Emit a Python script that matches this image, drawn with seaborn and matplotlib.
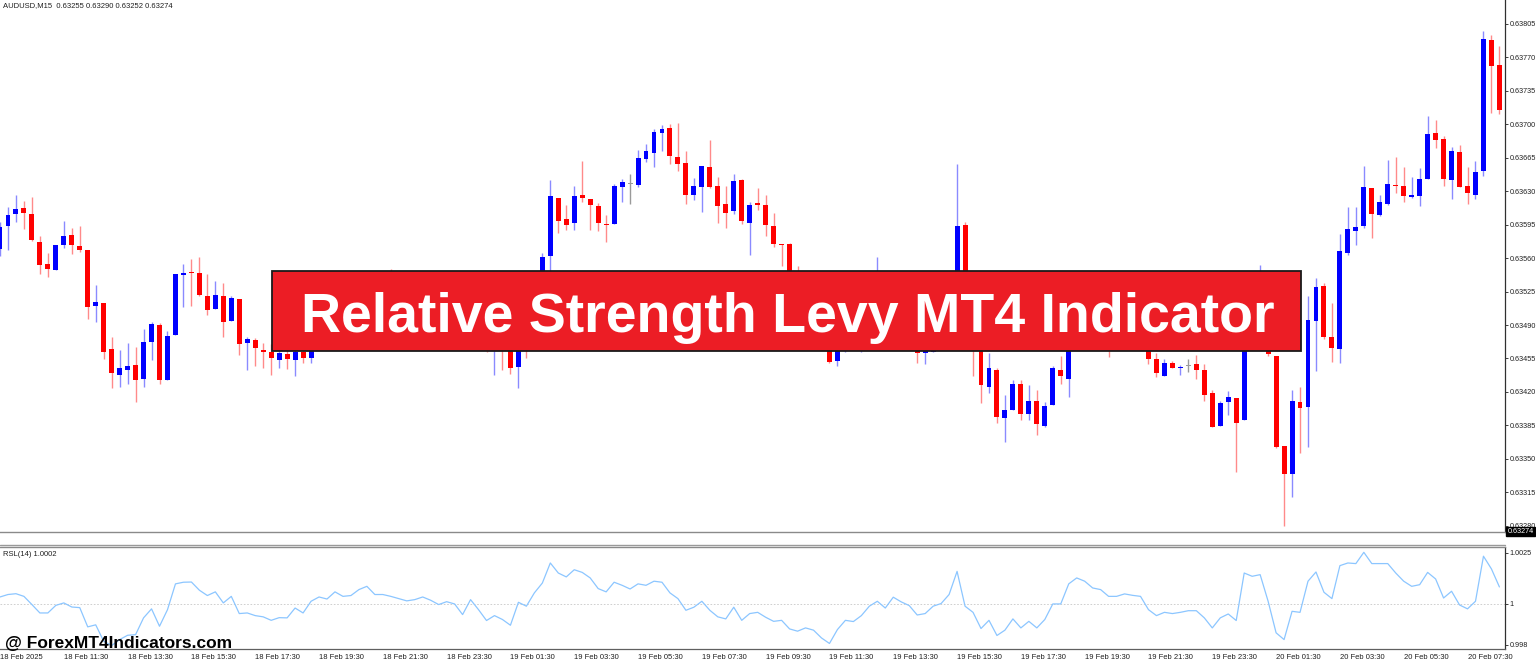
import numpy as np
import pandas as pd
import matplotlib
matplotlib.use("Agg")
import matplotlib.pyplot as plt
import seaborn as sns
from matplotlib.patches import Rectangle
from matplotlib.lines import Line2D
from matplotlib.transforms import blended_transform_factory

# ---------------- data (AUDUSD M15) ----------------
opens = [0.63570, 0.63594, 0.63606, 0.63612, 0.63606, 0.63577, 0.63554, 0.63548, 0.63574, 0.63584,
         0.63573, 0.63568, 0.63510, 0.63513, 0.63465, 0.63438, 0.63443, 0.63448, 0.63434, 0.63472,
         0.63490, 0.63433, 0.63480, 0.63542, 0.63545, 0.63544, 0.63520, 0.63507, 0.63520, 0.63494,
         0.63517, 0.63471, 0.63474, 0.63464, 0.63462, 0.63453, 0.63460, 0.63453, 0.63462, 0.63455,
         0.63484, 0.63500, 0.63496, 0.63518, 0.63508, 0.63512, 0.63528, 0.63538, 0.63520, 0.63522,
         0.63520, 0.63516, 0.63510, 0.63515, 0.63524, 0.63516, 0.63505, 0.63512, 0.63506, 0.63480,
         0.63518, 0.63496, 0.63468, 0.63482, 0.63466, 0.63446, 0.63505, 0.63498, 0.63525, 0.63562,
         0.63623, 0.63601, 0.63597, 0.63626, 0.63622, 0.63615, 0.63596, 0.63596, 0.63634, 0.63638,
         0.63636, 0.63664, 0.63670, 0.63691, 0.63696, 0.63666, 0.63659, 0.63626, 0.63634, 0.63655,
         0.63635, 0.63617, 0.63609, 0.63642, 0.63597, 0.63618, 0.63616, 0.63594, 0.63575, 0.63575,
         0.63530, 0.63505, 0.63510, 0.63496, 0.63475, 0.63452, 0.63492, 0.63500, 0.63494, 0.63504,
         0.63520, 0.63530, 0.63512, 0.63530, 0.63520, 0.63510, 0.63461, 0.63462, 0.63500, 0.63510,
         0.63530, 0.63595, 0.63510, 0.63484, 0.63425, 0.63443, 0.63393, 0.63401, 0.63428, 0.63397,
         0.63411, 0.63384, 0.63406, 0.63443, 0.63434, 0.63486, 0.63500, 0.63494, 0.63485, 0.63488,
         0.63478, 0.63482, 0.63490, 0.63486, 0.63478, 0.63454, 0.63437, 0.63450, 0.63445, 0.63447,
         0.63449, 0.63443, 0.63419, 0.63384, 0.63409, 0.63414, 0.63391, 0.63512, 0.63520, 0.63530,
         0.63458, 0.63363, 0.63334, 0.63410, 0.63404, 0.63494, 0.63531, 0.63477, 0.63465, 0.63565,
         0.63588, 0.63594, 0.63633, 0.63605, 0.63617, 0.63637, 0.63635, 0.63624, 0.63625, 0.63643,
         0.63691, 0.63685, 0.63642, 0.63671, 0.63635, 0.63626, 0.63651, 0.63788, 0.63762]

highs = [0.63598, 0.63613, 0.63626, 0.63620, 0.63624, 0.63583, 0.63565, 0.63574, 0.63599, 0.63591,
         0.63594, 0.63568, 0.63532, 0.63513, 0.63477, 0.63464, 0.63471, 0.63467, 0.63486, 0.63493,
         0.63492, 0.63484, 0.63543, 0.63554, 0.63559, 0.63561, 0.63543, 0.63536, 0.63534, 0.63520,
         0.63517, 0.63478, 0.63476, 0.63471, 0.63470, 0.63468, 0.63466, 0.63470, 0.63468, 0.63490,
         0.63508, 0.63510, 0.63525, 0.63522, 0.63520, 0.63535, 0.63544, 0.63542, 0.63530, 0.63549,
         0.63528, 0.63522, 0.63524, 0.63532, 0.63530, 0.63520, 0.63518, 0.63516, 0.63510, 0.63524,
         0.63522, 0.63500, 0.63490, 0.63488, 0.63472, 0.63512, 0.63515, 0.63535, 0.63565, 0.63642,
         0.63623, 0.63616, 0.63635, 0.63662, 0.63622, 0.63618, 0.63605, 0.63638, 0.63643, 0.63648,
         0.63673, 0.63679, 0.63695, 0.63699, 0.63700, 0.63701, 0.63672, 0.63644, 0.63656, 0.63684,
         0.63645, 0.63635, 0.63648, 0.63643, 0.63619, 0.63633, 0.63626, 0.63607, 0.63575, 0.63576,
         0.63552, 0.63520, 0.63515, 0.63500, 0.63482, 0.63498, 0.63510, 0.63506, 0.63512, 0.63526,
         0.63561, 0.63535, 0.63536, 0.63534, 0.63525, 0.63514, 0.63478, 0.63506, 0.63518, 0.63538,
         0.63658, 0.63598, 0.63515, 0.63490, 0.63461, 0.63445, 0.63417, 0.63433, 0.63433, 0.63427,
         0.63422, 0.63410, 0.63447, 0.63458, 0.63490, 0.63512, 0.63510, 0.63500, 0.63496, 0.63495,
         0.63490, 0.63498, 0.63496, 0.63492, 0.63484, 0.63461, 0.63454, 0.63452, 0.63448, 0.63454,
         0.63459, 0.63449, 0.63422, 0.63411, 0.63421, 0.63414, 0.63520, 0.63530, 0.63553, 0.63535,
         0.63458, 0.63363, 0.63422, 0.63425, 0.63520, 0.63539, 0.63534, 0.63513, 0.63585, 0.63613,
         0.63613, 0.63656, 0.63633, 0.63626, 0.63663, 0.63666, 0.63655, 0.63645, 0.63654, 0.63709,
         0.63704, 0.63688, 0.63676, 0.63678, 0.63655, 0.63662, 0.63798, 0.63793, 0.63782]

lows = [0.63562, 0.63569, 0.63598, 0.63590, 0.63578, 0.63543, 0.63540, 0.63548, 0.63571, 0.63564,
        0.63566, 0.63496, 0.63493, 0.63454, 0.63424, 0.63425, 0.63428, 0.63410, 0.63425, 0.63453,
        0.63428, 0.63433, 0.63480, 0.63509, 0.63510, 0.63520, 0.63501, 0.63507, 0.63478, 0.63494,
        0.63459, 0.63443, 0.63447, 0.63445, 0.63438, 0.63445, 0.63444, 0.63437, 0.63450, 0.63450,
        0.63478, 0.63488, 0.63490, 0.63500, 0.63502, 0.63506, 0.63520, 0.63514, 0.63512, 0.63512,
        0.63508, 0.63502, 0.63505, 0.63510, 0.63508, 0.63498, 0.63500, 0.63498, 0.63474, 0.63476,
        0.63490, 0.63462, 0.63438, 0.63443, 0.63439, 0.63424, 0.63455, 0.63490, 0.63515, 0.63545,
        0.63586, 0.63589, 0.63589, 0.63619, 0.63589, 0.63588, 0.63577, 0.63596, 0.63619, 0.63617,
        0.63634, 0.63661, 0.63655, 0.63672, 0.63658, 0.63651, 0.63617, 0.63621, 0.63608, 0.63633,
        0.63597, 0.63592, 0.63606, 0.63596, 0.63563, 0.63610, 0.63583, 0.63572, 0.63552, 0.63522,
        0.63498, 0.63495, 0.63488, 0.63468, 0.63450, 0.63447, 0.63462, 0.63486, 0.63462, 0.63498,
        0.63512, 0.63505, 0.63506, 0.63512, 0.63502, 0.63450, 0.63449, 0.63462, 0.63494, 0.63504,
        0.63524, 0.63505, 0.63437, 0.63408, 0.63419, 0.63388, 0.63368, 0.63401, 0.63391, 0.63391,
        0.63375, 0.63383, 0.63406, 0.63428, 0.63415, 0.63478, 0.63485, 0.63475, 0.63478, 0.63457,
        0.63470, 0.63478, 0.63480, 0.63474, 0.63449, 0.63436, 0.63437, 0.63445, 0.63438, 0.63441,
        0.63434, 0.63411, 0.63383, 0.63384, 0.63396, 0.63336, 0.63391, 0.63500, 0.63512, 0.63458,
        0.63361, 0.63280, 0.63310, 0.63356, 0.63362, 0.63442, 0.63475, 0.63451, 0.63450, 0.63563,
        0.63574, 0.63592, 0.63581, 0.63604, 0.63616, 0.63628, 0.63619, 0.63623, 0.63615, 0.63643,
        0.63675, 0.63635, 0.63622, 0.63634, 0.63617, 0.63622, 0.63646, 0.63712, 0.63711]

closes = [0.63593, 0.63605, 0.63611, 0.63607, 0.63579, 0.63553, 0.63549, 0.63574, 0.63583, 0.63574,
          0.63568, 0.63509, 0.63514, 0.63462, 0.63440, 0.63445, 0.63447, 0.63432, 0.63472, 0.63491,
          0.63432, 0.63479, 0.63543, 0.63544, 0.63544, 0.63521, 0.63506, 0.63521, 0.63493, 0.63518,
          0.63470, 0.63475, 0.63466, 0.63462, 0.63455, 0.63461, 0.63454, 0.63462, 0.63455, 0.63484,
          0.63500, 0.63496, 0.63518, 0.63508, 0.63512, 0.63528, 0.63538, 0.63520, 0.63522, 0.63520,
          0.63516, 0.63510, 0.63515, 0.63524, 0.63516, 0.63505, 0.63512, 0.63506, 0.63480, 0.63518,
          0.63496, 0.63468, 0.63482, 0.63466, 0.63445, 0.63505, 0.63498, 0.63525, 0.63561, 0.63625,
          0.63599, 0.63595, 0.63625, 0.63623, 0.63616, 0.63597, 0.63595, 0.63635, 0.63640, 0.63638,
          0.63665, 0.63672, 0.63692, 0.63695, 0.63667, 0.63658, 0.63626, 0.63635, 0.63656, 0.63634,
          0.63615, 0.63607, 0.63641, 0.63599, 0.63616, 0.63616, 0.63595, 0.63575, 0.63574, 0.63530,
          0.63505, 0.63510, 0.63496, 0.63475, 0.63451, 0.63492, 0.63500, 0.63494, 0.63504, 0.63520,
          0.63530, 0.63512, 0.63530, 0.63520, 0.63510, 0.63461, 0.63468, 0.63500, 0.63510, 0.63530,
          0.63594, 0.63510, 0.63484, 0.63427, 0.63445, 0.63394, 0.63401, 0.63428, 0.63397, 0.63411,
          0.63386, 0.63405, 0.63445, 0.63437, 0.63486, 0.63500, 0.63494, 0.63485, 0.63488, 0.63478,
          0.63482, 0.63490, 0.63486, 0.63478, 0.63454, 0.63440, 0.63450, 0.63445, 0.63446, 0.63447,
          0.63443, 0.63417, 0.63383, 0.63408, 0.63415, 0.63388, 0.63512, 0.63520, 0.63530, 0.63460,
          0.63362, 0.63334, 0.63411, 0.63403, 0.63495, 0.63530, 0.63478, 0.63466, 0.63567, 0.63590,
          0.63593, 0.63634, 0.63606, 0.63619, 0.63638, 0.63635, 0.63625, 0.63626, 0.63643, 0.63690,
          0.63684, 0.63643, 0.63672, 0.63634, 0.63628, 0.63650, 0.63789, 0.63761, 0.63715]

rsl = [1.00034, 1.00046, 1.00050, 1.00037, 0.99997, 0.99956, 0.99956, 0.99993, 1.00005, 0.99985,
       0.99982, 0.99888, 0.99898, 0.99818, 0.99797, 0.99826, 0.99847, 0.99850, 0.99932, 0.99976,
       0.99891, 0.99972, 1.00098, 1.00106, 1.00107, 1.00067, 1.00041, 1.00059, 1.00005, 1.00037,
       0.99953, 0.99956, 0.99943, 0.99937, 0.99920, 0.99933, 0.99932, 0.99980, 0.99956, 1.00013,
       1.00034, 1.00024, 1.00059, 1.00037, 1.00041, 1.00070, 1.00086, 1.00046, 1.00046, 1.00037,
       1.00026, 1.00015, 1.00021, 1.00034, 1.00018, 0.99997, 1.00011, 1.00000, 0.99948, 1.00021,
       0.99972, 0.99919, 0.99943, 0.99924, 0.99896, 1.00008, 0.99989, 1.00054, 1.00102, 1.00200,
       1.00151, 1.00132, 1.00167, 1.00154, 1.00127, 1.00075, 1.00059, 1.00106, 1.00091, 1.00073,
       1.00098, 1.00091, 1.00111, 1.00106, 1.00054, 1.00026, 0.99969, 0.99984, 1.00013, 0.99969,
       0.99937, 0.99927, 0.99984, 0.99920, 0.99953, 0.99959, 0.99935, 0.99915, 0.99920, 0.99878,
       0.99867, 0.99883, 0.99872, 0.99834, 0.99807, 0.99875, 0.99920, 0.99914, 0.99943, 0.99989,
       1.00013, 0.99980, 1.00033, 1.00010, 0.99992, 0.99946, 0.99953, 0.99989, 1.00002, 1.00046,
       1.00159, 0.99989, 0.99959, 0.99880, 0.99920, 0.99846, 0.99872, 0.99927, 0.99883, 0.99915,
       0.99883, 0.99924, 1.00000, 1.00000, 1.00098, 1.00127, 1.00111, 1.00078, 1.00070, 1.00037,
       1.00037, 1.00049, 1.00042, 1.00037, 0.99972, 0.99943, 0.99959, 0.99953, 0.99959, 0.99967,
       0.99967, 0.99932, 0.99883, 0.99932, 0.99951, 0.99919, 1.00151, 1.00135, 1.00143, 1.00013,
       0.99859, 0.99826, 0.99964, 0.99959, 1.00111, 1.00156, 1.00057, 1.00026, 1.00187, 1.00200,
       1.00197, 1.00252, 1.00197, 1.00197, 1.00197, 1.00151, 1.00111, 1.00086, 1.00094, 1.00154,
       1.00122, 1.00029, 1.00062, 0.99995, 0.99976, 1.00013, 1.00233, 1.00171, 1.00083]

time_labels = ["18 Feb 2025", "18 Feb 11:30", "18 Feb 13:30", "18 Feb 15:30", "18 Feb 17:30",
               "18 Feb 19:30", "18 Feb 21:30", "18 Feb 23:30", "19 Feb 01:30", "19 Feb 03:30",
               "19 Feb 05:30", "19 Feb 07:30", "19 Feb 09:30", "19 Feb 11:30", "19 Feb 13:30",
               "19 Feb 15:30", "19 Feb 17:30", "19 Feb 19:30", "19 Feb 21:30", "19 Feb 23:30",
               "20 Feb 01:30", "20 Feb 03:30", "20 Feb 05:30", "20 Feb 07:30"]
time_label_bars = [0, 8, 16, 24, 32, 40, 48, 56, 64, 72, 80, 88, 96, 104, 112, 120,
                   128, 136, 144, 152, 160, 168, 176, 184]

price_ticks = [0.63280, 0.63315, 0.63350, 0.63385, 0.63420, 0.63455, 0.63490, 0.63525,
               0.63560, 0.63595, 0.63630, 0.63665, 0.63700, 0.63735, 0.63770, 0.63805]
rsl_ticks = [0.998, 1.0, 1.0025]
rsl_tick_labels = ["0.998", "1", "1.0025"]

header_text = "AUDUSD,M15  0.63255 0.63290 0.63252 0.63274"
rsl_header = "RSL(14) 1.0002"
last_price = 0.63274
banner_text = "Relative Strength Levy MT4 Indicator"
watermark_text = "@ ForexMT4Indicators.com"

# ---------------- figure ----------------
sns.set_style("white")
plt.rcParams["font.family"] = ["Liberation Sans", "DejaVu Sans"]

W, H = 1536, 660
fig = plt.figure(figsize=(W / 100, H / 100), dpi=100)
fig.patch.set_facecolor("white")

df = pd.DataFrame({"bar": np.arange(len(closes)), "open": opens, "high": highs,
                   "low": lows, "close": closes, "rsl": rsl})

BULL, BEAR, DOJI = "#0000ff", "#ff0000", "#9a9a9a"
BULL_W, BEAR_W = "#8a8aff", "#ff8a8a"

def body_color(o, c):
    return BULL if c > o else (BEAR if c < o else DOJI)

def wick_color(o, c):
    return BULL_W if c > o else (BEAR_W if c < o else DOJI)

df["body_col"] = [body_color(o, c) for o, c in zip(df.open, df.close)]
df["wick_col"] = [wick_color(o, c) for o, c in zip(df.open, df.close)]
df["bottom"] = df[["open", "close"]].min(axis=1)
df["height"] = np.maximum((df.close - df.open).abs(), 0.000008)

x_right = 1505
ax = fig.add_axes([0, 1 - 532 / H, x_right / W, 532 / H])
ax2 = fig.add_axes([0, 1 - 649 / H, x_right / W, (649 - 547) / H])

xlim = (0.0, 188.7)
LABEL_FS = 5.2

# --- main candle panel
ax.vlines(df.bar, df.low, df.high, colors=df.wick_col, linewidth=1.0, zorder=2)
ax.bar(df.bar, df.height, bottom=df.bottom, width=0.62, color=df.body_col,
       linewidth=0, zorder=3)
ax.set_xlim(*xlim)
ax.set_ylim(0.632735, 0.63830)
ax.set_xticks([])
ax.yaxis.tick_right()
ax.set_yticks(price_ticks)
ax.set_yticklabels([f"{p:.5f}" for p in price_ticks])
ax.tick_params(axis="y", length=2.5, width=0.6, pad=1.0, labelsize=LABEL_FS, colors="#202020")
for s in ["top", "left"]:
    ax.spines[s].set_visible(False)
ax.spines["right"].set_color("#303030")
ax.spines["right"].set_linewidth(0.9)
ax.spines["bottom"].set_color("#8a8a8a")
ax.spines["bottom"].set_linewidth(1.0)
ax.set_facecolor("white")

tr = blended_transform_factory(ax.transAxes, ax.transData)
ax.text(1.0015, last_price, f"{last_price:.5f}", transform=tr, ha="left", va="center",
        color="white", fontsize=LABEL_FS, clip_on=False,
        bbox=dict(boxstyle="square,pad=0.2", fc="black", ec="black"))

# --- RSL panel
sns.lineplot(data=df, x="bar", y="rsl", ax=ax2, color="#8cc6ff", linewidth=0.9)
ax2.axhline(1.0, color="#c8c8c8", linestyle=(0, (2, 2)), linewidth=0.6, zorder=0)
ax2.set_xlim(*xlim)
ax2.set_ylim(0.99780, 1.00278)
ax2.set_xlabel("")
ax2.set_ylabel("")
ax2.yaxis.tick_right()
ax2.set_yticks(rsl_ticks)
ax2.set_yticklabels(rsl_tick_labels)
ax2.set_xticks(time_label_bars)
ax2.set_xticklabels(time_labels, ha="left")
ax2.tick_params(axis="y", length=2.5, width=0.6, pad=1.0, labelsize=LABEL_FS, colors="#202020")
ax2.tick_params(axis="x", length=3, width=0.6, pad=0.5, labelsize=LABEL_FS + 0.3, colors="#202020")
ax2.spines["left"].set_visible(False)
ax2.spines["top"].set_color("#8a8a8a")
ax2.spines["top"].set_linewidth(1.0)
ax2.spines["right"].set_color("#303030")
ax2.spines["right"].set_linewidth(0.9)
ax2.spines["bottom"].set_color("#606060")
ax2.spines["bottom"].set_linewidth(0.9)
fig.add_artist(Line2D([0, x_right / W], [1 - 545 / H] * 2, transform=fig.transFigure,
                      color="#9a9a9a", linewidth=1.0))

# --- texts
fig.text(3 / W, 1 - 6 / H, header_text, fontsize=5.5, va="center", ha="left", color="#202020")
fig.text(3 / W, 1 - 554 / H, rsl_header, fontsize=5.5, va="center", ha="left", color="#202020")

# banner overlay
fig.add_artist(Rectangle((272 / W, 1 - 351 / H), (1301 - 272) / W, 80 / H,
                         transform=fig.transFigure, facecolor="#ec1d25",
                         edgecolor="#1a1a1a", linewidth=1.3, zorder=10))
fig.text((302 + 1273) / 2 / W, 1 - 332 / H, banner_text, ha="center", va="baseline",
         color="white", fontsize=40, fontweight="bold", zorder=11)

# watermark
fig.text(5 / W, 1 - 648 / H, watermark_text, ha="left", va="baseline", color="black",
         fontsize=12.5, fontweight="bold", zorder=11)

fig.savefig("out.png", dpi=100, facecolor="white")
